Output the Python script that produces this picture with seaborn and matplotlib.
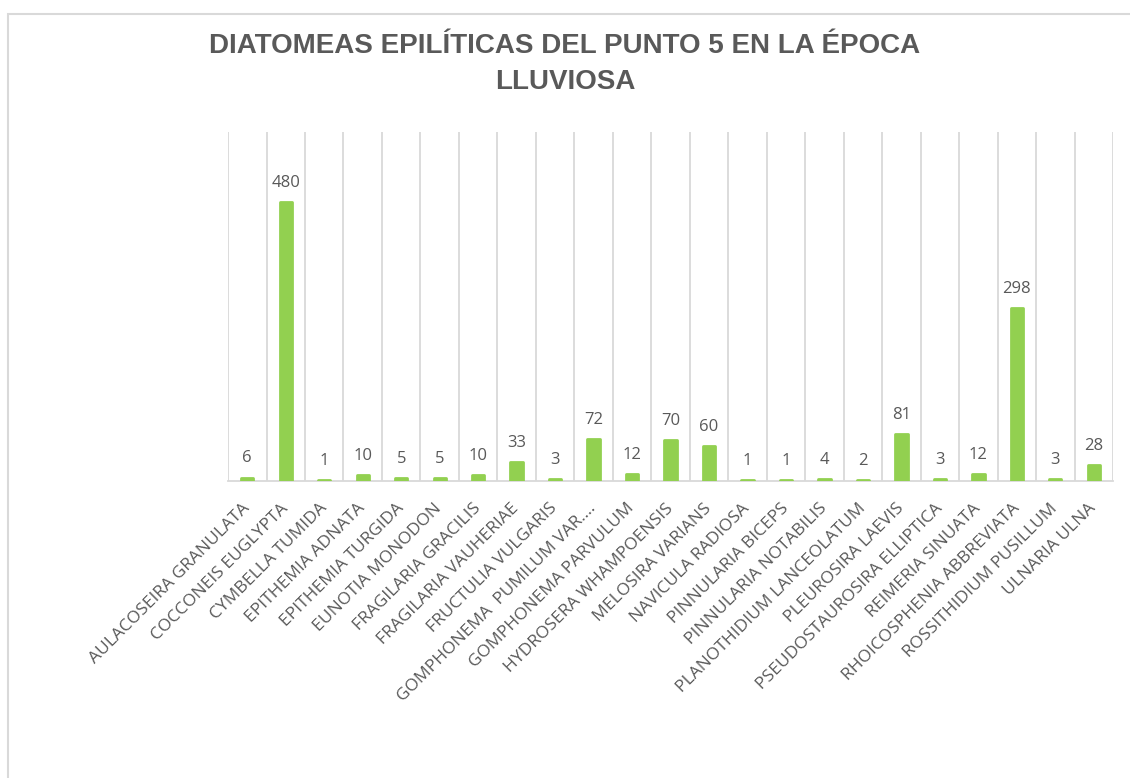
import matplotlib
matplotlib.use("Agg")
import matplotlib.pyplot as plt
import seaborn as sns
import numpy as np
import pandas as pd
from matplotlib.patches import Rectangle

# dati
especies = [
    "AULACOSEIRA GRANULATA", "COCCONEIS EUGLYPTA", "CYMBELLA TUMIDA",
    "EPITHEMIA ADNATA", "EPITHEMIA TURGIDA", "EUNOTIA MONODON",
    "FRAGILARIA GRACILIS", "FRAGILARIA VAUHERIAE", "FRUCTULIA VULGARIS",
    "GOMPHONEMA  PUMILUM VAR.\u2026", "GOMPHONEMA PARVULUM", "HYDROSERA WHAMPOENSIS",
    "MELOSIRA VARIANS", "NAVICULA RADIOSA", "PINNULARIA BICEPS",
    "PINNULARIA NOTABILIS", "PLANOTHIDIUM LANCEOLATUM", "PLEUROSIRA LAEVIS",
    "PSEUDOSTAUROSIRA ELLIPTICA", "REIMERIA SINUATA", "RHOICOSPHENIA ABBREVIATA",
    "ROSSITHIDIUM PUSILLUM", "ULNARIA ULNA",
]
valores = [6, 480, 1, 10, 5, 5, 10, 33, 3, 72, 12, 70, 60, 1, 1, 4, 2, 81, 3, 12, 298, 3, 28]

titulo = "DIATOMEAS EPILÍTICAS DEL PUNTO 5 EN LA ÉPOCA\nLLUVIOSA"

df = pd.DataFrame({"especie": especies, "valor": valores})

sns.set_theme(style="white")
plt.rcParams['font.family'] = ['Open Sans', 'DejaVu Sans']

gris = "#595959"
linea = "#D9D9D9"
verde = "#92D050"

fig = plt.figure(figsize=(11.3, 7.78), dpi=100)
ax = fig.add_axes([0.2018, 0.3817, 0.7832, 0.4486])

sns.barplot(data=df, x="especie", y="valor", color=verde, width=0.32,
            saturation=1, ax=ax, zorder=3)
for p in ax.patches:
    p.set_edgecolor(verde)
    p.set_linewidth(2)
    p.set_joinstyle("round")

n = len(especies)
ax.set_xlim(-0.5, n - 0.5)
ax.set_ylim(0, 600)

# griglia verticale tra le categorie
ax.set_xticks(np.arange(-0.5, n, 1.0), minor=True)
ax.grid(which="minor", axis="x", color=linea, linewidth=1.3, zorder=0)
ax.grid(which="major", visible=False)
ax.tick_params(which="both", length=0)
ax.set_yticks([])

for s in ["left", "right", "top"]:
    ax.spines[s].set_visible(False)
ax.spines["bottom"].set_color(linea)
ax.spines["bottom"].set_linewidth(1.3)

ax.set_xlabel("")
ax.set_ylabel("")
ax.set_xticks(range(n))
ax.set_xticklabels(especies, rotation=45, ha="right", va="center",
                   rotation_mode="anchor", fontsize=12.5, color=gris)
ax.tick_params(axis="x", pad=18)

# etichette dei valori
ax.bar_label(ax.containers[0], labels=[str(v) for v in valores],
             padding=8, fontsize=12, color=gris)

fig.text(0.5, 0.958, titulo, ha="center", va="top", fontsize=20,
         fontweight="bold", color=gris, family=["Liberation Sans", "DejaVu Sans"],
         linespacing=1.5)

# cornice del grafico
fig.patches.append(Rectangle((8 / 1130, -0.05), 1.2, 1 - 14 / 778 + 0.05,
                             transform=fig.transFigure, fill=False,
                             edgecolor=linea, linewidth=1.5))

fig.savefig("out.png", dpi=100)
